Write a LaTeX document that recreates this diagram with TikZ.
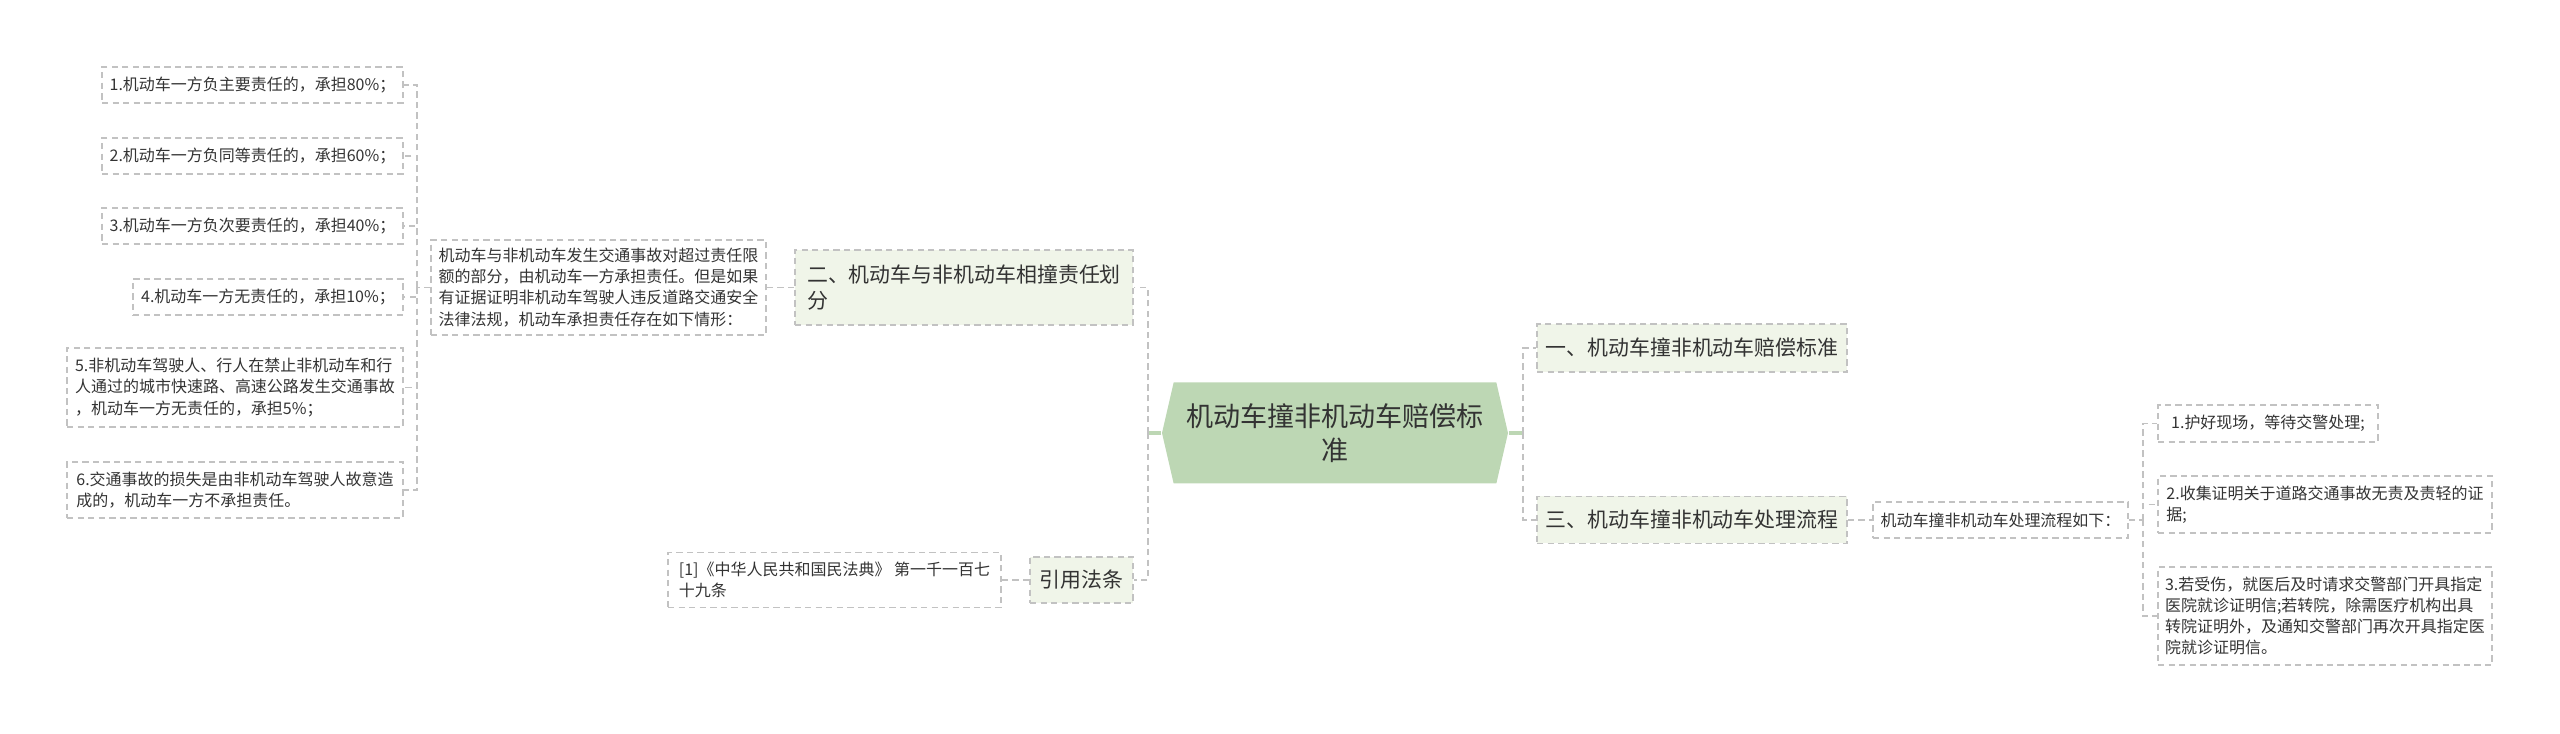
\documentclass[tikz,border=0pt]{standalone}
\usepackage{fontspec}
\setmainfont{Noto Sans CJK SC}
\usetikzlibrary{shapes.symbols}
\definecolor{rootgreen}{HTML}{BDD7B4}
\definecolor{subgreen}{HTML}{F0F5E9}
\definecolor{dashgray}{HTML}{C2C2C2}
\definecolor{inkgray}{HTML}{333333}

\begin{document}
\begin{tikzpicture}[scale=1,
  box/.style={draw=dashgray, line width=0.45pt, dash pattern=on 1.8pt off 1.2pt, align=left, inner sep=0pt, text=inkgray, font=\fontsize{4.55}{6}\selectfont},
  sub/.style={box, fill=subgreen, font=\fontsize{5.95}{7.4}\selectfont},
  link/.style={draw=dashgray, line width=0.45pt, dash pattern=on 1.8pt off 1.2pt},
  stub/.style={draw=rootgreen, line width=0.9pt}]

\useasboundingbox (0,0) rectangle (25.6,7.33);

\node [signal, signal to=east and west, signal pointer angle=154, fill=rootgreen, minimum width=3.46cm, minimum height=1.01cm, inner sep=0pt, align=center, text=inkgray, font=\fontsize{7.7}{9.7}\selectfont] (0) at (13.35,3.00) {机动车撞非机动车赔偿标\\准};

\node [sub, minimum width=3.10cm, minimum height=0.48cm] (1) at (16.92,3.85) {一、机动车撞非机动车赔偿标准};
\node [sub, minimum width=3.10cm, minimum height=0.47cm] (2) at (16.92,2.13) {三、机动车撞非机动车处理流程};
\node [box, minimum width=2.55cm, minimum height=0.36cm] (3) at (20.005,2.13) {机动车撞非机动车处理流程如下：};

\node [box, minimum width=2.20cm, minimum height=0.37cm] (4) at (22.68,3.095) {1.护好现场，等待交警处理;};
\node [box, minimum width=3.34cm, minimum height=0.57cm] (5) at (23.25,2.285) {2.收集证明关于道路交通事故无责及责轻的证\\据;};
\node [box, minimum width=3.34cm, minimum height=0.98cm] (6) at (23.25,1.17) {3.若受伤，就医后及时请求交警部门开具指定\\医院就诊证明信;若转院，除需医疗机构出具\\转院证明外，及通知交警部门再次开具指定医\\院就诊证明信。};

\node [sub, minimum width=3.38cm, minimum height=0.75cm] (7) at (9.64,4.455) {二、机动车与非机动车相撞责任划\\分};
\node [box, minimum width=3.35cm, minimum height=0.95cm] (8) at (5.985,4.455) {机动车与非机动车发生交通事故对超过责任限\\额的部分，由机动车一方承担责任。但是如果\\有证据证明非机动车驾驶人违反道路交通安全\\法律法规，机动车承担责任存在如下情形：};

\node [box, minimum width=3.01cm, minimum height=0.36cm] (9) at (2.525,6.48) {1.机动车一方负主要责任的，承担80\%；};
\node [box, minimum width=3.01cm, minimum height=0.36cm] (10) at (2.525,5.77) {2.机动车一方负同等责任的，承担60\%；};
\node [box, minimum width=3.01cm, minimum height=0.36cm] (11) at (2.525,5.07) {3.机动车一方负次要责任的，承担40\%；};
\node [box, minimum width=2.70cm, minimum height=0.36cm] (12) at (2.68,4.36) {4.机动车一方无责任的，承担10\%；};
\node [box, minimum width=3.36cm, minimum height=0.79cm] (13) at (2.35,3.455) {5.非机动车驾驶人、行人在禁止非机动车和行\\人通过的城市快速路、高速公路发生交通事故\\，机动车一方无责任的，承担5\%；};
\node [box, minimum width=3.36cm, minimum height=0.56cm] (14) at (2.35,2.43) {6.交通事故的损失是由非机动车驾驶人故意造\\成的，机动车一方不承担责任。};

\node [sub, minimum width=1.03cm, minimum height=0.46cm] (15) at (10.815,1.53) {引用法条};
\node [box, minimum width=3.33cm, minimum height=0.55cm] (16) at (8.345,1.53) {[1]《中华人民共和国民法典》 第一千一百七\\十九条};

\coordinate (17) at (11.48,3.00);
\coordinate (18) at (15.23,3.00);
\coordinate (19) at (4.17,4.455);
\coordinate (20) at (21.43,2.13);

\draw[stub] (0.west) -- (17);
\draw[stub] (0.east) -- (18);

\draw[link] (17) |- (7.east);
\draw[link] (17) |- (15.east);
\draw[link] (18) |- (1.west);
\draw[link] (18) |- (2.west);

\draw[link] (7.west) -- (8.east);
\draw[link] (15.west) -- (16.east);
\draw[link] (2.east) -- (3.west);

\draw[link] (8.west) -- (19);
\foreach \i in {9,...,14}
  \draw[link] (19) |- (\i.east);

\draw[link] (3.east) -- (20);
\foreach \i in {4,5,6}
  \draw[link] (20) |- (\i.west);
\end{tikzpicture}
\end{document}
